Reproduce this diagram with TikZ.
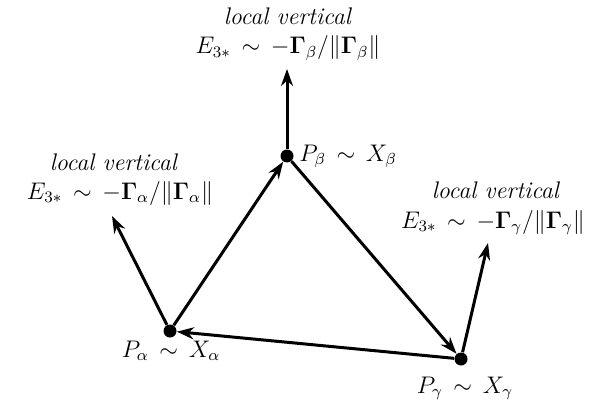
\documentclass[tikz,border=0pt]{standalone}
\usepackage{amsmath}
\usetikzlibrary{arrows.meta}
\begin{document}
\begin{tikzpicture}[x=0.5pt,y=-0.5pt,
  dot/.style={circle,fill=black,inner sep=0pt,minimum size=6.5pt},
  vec/.style={line width=1.5pt,-{Stealth[length=8.5pt,width=6pt]}},
  txt/.style={anchor=base,inner sep=0pt,font=\fontsize{12}{14}\selectfont}]
\useasboundingbox (0,0) rectangle (599,401);
\node[dot] (pb) at (287,156) {};
\node[dot] (pa) at (170,331) {};
\node[dot] (pg) at (461,359) {};
\coordinate (vb) at (287,69);
\coordinate (va) at (112,216);
\coordinate (vg) at (488,243);
\draw[vec] (pb) -- (vb);
\draw[vec] (pa) -- (va);
\draw[vec] (pg) -- (vg);
\draw[vec] (pa) -- (pb);
\draw[vec] (pb) -- (pg);
\draw[vec] (pg) -- (pa);
\node[txt] (tb1) at (288,25) {\textit{local vertical}};
\node[txt] (tb2) at (288,54) {$E_{3*}\,\sim\,-\mathbf{\Gamma}_\beta/\|\mathbf{\Gamma}_\beta\|$};
\node[txt] (ta1) at (114,170) {\textit{local vertical}};
\node[txt] (ta2) at (120,199) {$E_{3*}\,\sim\,-\mathbf{\Gamma}_\alpha/\|\mathbf{\Gamma}_\alpha\|$};
\node[txt] (tg1) at (496,198) {\textit{local vertical}};
\node[txt] (tg2) at (493,228) {$E_{3*}\,\sim\,-\mathbf{\Gamma}_\gamma/\|\mathbf{\Gamma}_\gamma\|$};
\node[txt,anchor=base west] (lb) at (299,161) {$P_\beta\,\sim\,X_\beta$};
\node[txt] (la) at (171,357) {$P_\alpha\,\sim\,X_\alpha$};
\node[txt] (lg) at (465,393) {$P_\gamma\,\sim\,X_\gamma$};
\end{tikzpicture}
\end{document}
